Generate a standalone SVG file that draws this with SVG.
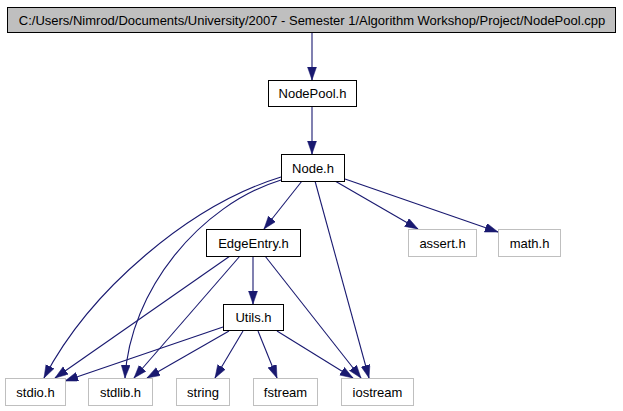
<svg xmlns="http://www.w3.org/2000/svg" width="623" height="411" viewBox="0 0 623 411">
<style>
.n rect{fill:#fff;stroke:#000;stroke-width:1}
.s rect{fill:#fff;stroke:#bfbfbf;stroke-width:1}
.root rect{fill:#bfbfbf;stroke:#000;stroke-width:1}
text{font-family:"Liberation Sans",Arial,sans-serif;font-size:13px;text-anchor:middle;fill:#000}
#edges path{fill:none;stroke:#191970;stroke-width:1.1;marker-end:url(#ah)}
</style>
<defs>
<marker id="ah" markerUnits="userSpaceOnUse" markerWidth="14" markerHeight="10" refX="13" refY="4.5" orient="auto">
<path d="M0,0 L13,4.5 L0,9 z" fill="#191970" stroke="#191970" stroke-width="0.5"/>
</marker>
</defs>
<rect width="623" height="411" fill="#fff"/>
<g id="edges">
<path d="M312,32 L312,80"/>
<path d="M312,106 L312,154"/>
<path d="M302,181 L264,229"/>
<path d="M335,181 L418,229"/>
<path d="M345,179 L498,232"/>
<path d="M315,181 L369,378"/>
<path d="M281,177 C190,205 90,290 44,378"/>
<path d="M281,180 C200,205 130,290 125,378"/>
<path d="M230,256 L55,378"/>
<path d="M240,256 L134,378"/>
<path d="M253,256 L253,304"/>
<path d="M265,256 L361,378"/>
<path d="M223,327 L65,381"/>
<path d="M229,331 L147,378"/>
<path d="M243,331 L215,378"/>
<path d="M258,331 L277,378"/>
<path d="M277,331 L353,378"/>
</g>
<g id="root" class="root"><rect x="7.5" y="7.5" width="608" height="25"/><text x="312" y="24.5">C:/Users/Nimrod/Documents/University/2007 - Semester 1/Algorithm Workshop/Project/NodePool.cpp</text></g>
<g id="nodepool" class="n"><rect x="268.5" y="80.5" width="88" height="26"/><text x="312.5" y="98">NodePool.h</text></g>
<g id="node" class="n"><rect x="281.5" y="154.5" width="63" height="27"/><text x="313" y="172.5">Node.h</text></g>
<g id="edgeentry" class="n"><rect x="206.5" y="229.5" width="94" height="27"/><text x="253.5" y="247.5">EdgeEntry.h</text></g>
<g id="utils" class="n"><rect x="223.5" y="304.5" width="60" height="26"/><text x="253.5" y="322">Utils.h</text></g>
<g id="assert" class="s"><rect x="408.5" y="229.5" width="68" height="27"/><text x="442.5" y="247.5">assert.h</text></g>
<g id="math" class="s"><rect x="498.5" y="229.5" width="62" height="27"/><text x="529.5" y="247.5">math.h</text></g>
<g id="stdio" class="s"><rect x="5.5" y="378.5" width="60" height="27"/><text x="35.5" y="396.5">stdio.h</text></g>
<g id="stdlib" class="s"><rect x="88.5" y="378.5" width="64" height="27"/><text x="120.5" y="396.5">stdlib.h</text></g>
<g id="string" class="s"><rect x="176.5" y="378.5" width="53" height="27"/><text x="203" y="396.5">string</text></g>
<g id="fstream" class="s"><rect x="253.5" y="378.5" width="64" height="27"/><text x="285.5" y="396.5">fstream</text></g>
<g id="iostream" class="s"><rect x="341.5" y="378.5" width="72" height="27"/><text x="377.5" y="396.5">iostream</text></g>
</svg>
